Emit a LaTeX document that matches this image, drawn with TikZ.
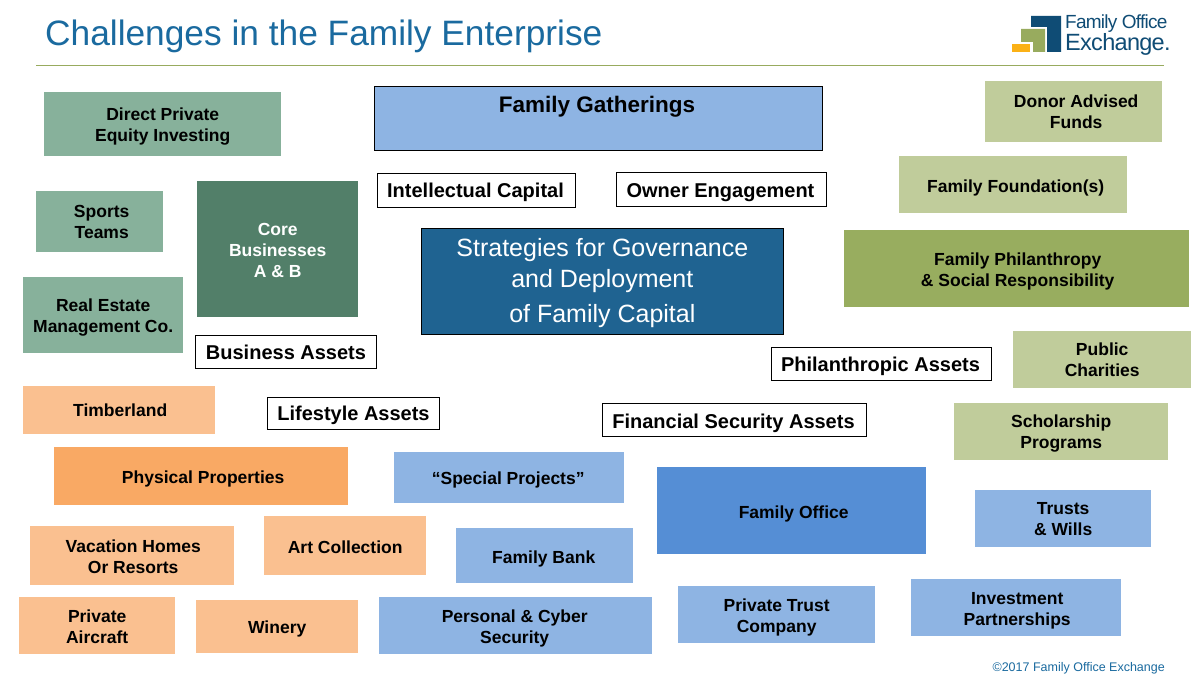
\documentclass[tikz,border=0pt]{standalone}
\usepackage{fontspec}
\setmainfont{Liberation Sans}
\usetikzlibrary{calc}
\definecolor{teal1}{HTML}{87B19B}
\definecolor{teal2}{HTML}{527F69}
\definecolor{blue1}{HTML}{8EB4E3}
\definecolor{blue2}{HTML}{558ED5}
\definecolor{navy}{HTML}{1F6391}
\definecolor{grn1}{HTML}{C0CC9B}
\definecolor{grn2}{HTML}{98AD5F}
\definecolor{org1}{HTML}{FAC090}
\definecolor{org2}{HTML}{F9A964}
\definecolor{titleblue}{HTML}{1A6A9F}
\definecolor{logoblue}{HTML}{0F4C75}
\definecolor{logogreen}{HTML}{98AB5E}
\definecolor{logoorange}{HTML}{FBB116}
\tikzset{x=1pt,y=-1pt,
 boxbg/.style={inner sep=0pt,anchor=north west},
 boxtext/.style={inner sep=0pt,align=center,font=\fontsize{17.5}{21}\selectfont\bfseries,text=black},
 labbg/.style={draw=black,line width=1.1pt,fill=white,inner sep=0pt,anchor=north west},
 labtext/.style={inner sep=0pt,align=center,font=\fontsize{20}{24}\selectfont\bfseries,text=black}}
\begin{document}
\begin{tikzpicture}
\useasboundingbox (0,0) rectangle (1200,676);
\fill[white] (0,0) rectangle (1200,676);
\node[anchor=west,inner sep=0pt,text=titleblue,font=\fontsize{35.3}{40}\selectfont] (title) at (45,36) {Challenges in the Family Enterprise};
\path[fill=logogreen] (36,64.7) rectangle (1164,66.3);
% logo
\fill[logoblue] (1031,16) -- (1061,16) -- (1061,52) -- (1047,52) -- (1047,27) -- (1031,27) -- cycle;
\fill[logogreen] (1021,29) -- (1045,29) -- (1045,52) -- (1033,52) -- (1033,42) -- (1021,42) -- cycle;
\fill[logoorange] (1012,44) rectangle (1030,52);
\node[anchor=west,inner sep=0pt,text=logoblue,font=\fontsize{19}{22}\selectfont] (logoa) at (1065,24) {\addfontfeatures{LetterSpace=-4}Family Office};
\node[anchor=west,inner sep=0pt,text=logoblue,font=\fontsize{23.5}{27}\selectfont] (logob) at (1065,44.5) {\addfontfeatures{LetterSpace=-3}Exchange.};
% helpers: x0 y0 x1 y1 name colour dx dy text
\def\B#1#2#3#4#5#6#7#8#9{\node[boxbg,fill=#6,minimum width=#3-#1,minimum height=#4-#2] (#5) at (#1,#2) {};
 \node[boxtext] (#5t) at ($(#5.center)+(#7,#8)$) {#9};}
\def\L#1#2#3#4#5#6#7#8{\node[labbg,minimum width=#3-#1-1.1,minimum height=#4-#2-1.1] (#5) at (#1,#2) {};
 \node[labtext] (#5t) at ($(#5.center)+(#6,#7)$) {#8};}
% teal
\B{44}{92}{281}{156}{dpe}{teal1}{0}{2}{Direct Private\\Equity Investing}
\B{36}{191}{163}{252}{st}{teal1}{2}{0}{Sports\\Teams}
\B{23}{277}{183}{353}{re}{teal1}{0}{2}{Real Estate\\Management Co.}
\B{197}{181}{358}{317}{core}{teal2}{0}{1}{\textcolor{white}{Core}\\\textcolor{white}{Businesses}\\\textcolor{white}{A \& B}}
% top
\node[boxbg,fill=blue1,draw=black,line width=.7pt,minimum width=448,minimum height=64] (fg) at (374,86) {};
\node[boxtext,font=\fontsize{22.5}{26}\selectfont\bfseries] (fgt) at (597,107) {Family Gatherings};
\L{377}{173}{576}{208}{ic}{-1}{2}{Intellectual Capital}
\L{616}{172}{827}{207}{oe}{-1}{3}{Owner Engagement}
\node[boxbg,fill=navy,draw=black,line width=.7pt,minimum width=362,minimum height=106] (strat) at (421,228) {};
\node[inner sep=0pt,text=white,align=center,font=\fontsize{25}{31}\selectfont] (stratt) at ($(strat.center)+(0,1.5)$) {Strategies for Governance\\and Deployment\\[4.5pt]of Family Capital};
% green
\B{985}{81}{1162}{142}{daf}{grn1}{2.5}{0}{Donor Advised\\Funds}
\B{899}{156}{1127}{213}{ff}{grn1}{2.5}{3}{Family Foundation(s)}
\B{844}{230}{1189}{307}{fp}{grn2}{1}{3}{Family Philanthropy\\\& Social Responsibility}
\B{1013}{331}{1191}{388}{pc}{grn1}{0}{0}{Public\\Charities}
\B{954}{403}{1168}{460}{sp}{grn1}{0}{2}{Scholarship\\Programs}
% labels
\L{195}{335}{377}{369}{ba}{0}{0}{Business Assets}
\L{267}{397}{440}{430}{la}{0}{2}{Lifestyle Assets}
\L{771}{347}{992}{381}{pa}{-1}{2}{Philanthropic Assets}
\L{602}{403}{867}{437}{fsa}{-1}{3}{Financial Security Assets}
% orange
\B{23}{386}{215}{434}{tl}{org1}{1}{0}{Timberland}
\B{54}{447}{348}{505}{pp}{org2}{2}{3}{Physical Properties}
\B{30}{526}{234}{585}{vh}{org1}{1}{1}{Vacation Homes\\Or Resorts}
\B{264}{516}{426}{575}{ac}{org1}{0}{2}{Art Collection}
\B{19}{597}{175}{654}{pa2}{org1}{0}{1}{Private\\Aircraft}
\B{196}{600}{358}{653}{wi}{org1}{0}{2}{Winery}
% blue
\B{394}{452}{624}{503}{spj}{blue1}{-1}{2}{“Special Projects”}
\B{456}{528}{633}{583}{fb}{blue1}{-1}{3}{Family Bank}
\B{379}{597}{652}{654}{pcs}{blue1}{-1}{3}{Personal \& Cyber\\Security}
\B{657}{467}{926}{554}{fo}{blue2}{2}{3}{Family Office}
\B{678}{586}{875}{643}{ptc}{blue1}{0}{3}{Private Trust\\Company}
\B{911}{579}{1121}{636}{ip}{blue1}{1}{3}{Investment\\Partnerships}
\B{975}{490}{1151}{547}{tw}{blue1}{0}{0}{Trusts\\\& Wills}
\node[anchor=east,inner sep=0pt,text=titleblue,font=\fontsize{12.5}{15}\selectfont] (copy) at (1165,668) {©2017 Family Office Exchange};
\end{tikzpicture}
\end{document}
